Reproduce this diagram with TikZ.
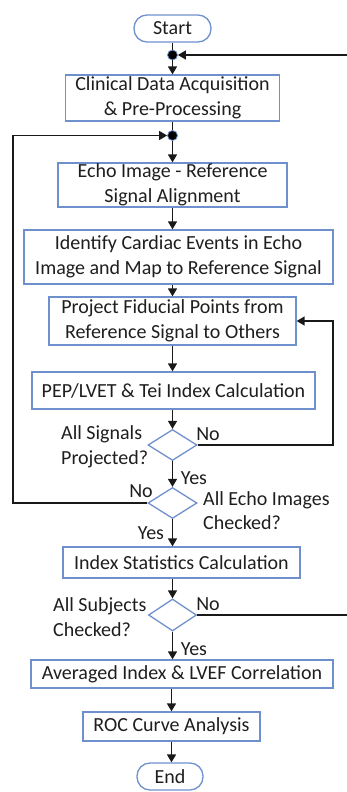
\documentclass[tikz,border=0pt]{standalone}
\usepackage{fontspec}
\setmainfont{Carlito}
\usetikzlibrary{arrows.meta,shapes.geometric,calc}
\definecolor{bordblue}{RGB}{110,145,205}
\definecolor{txt}{RGB}{30,30,30}
\definecolor{ln}{RGB}{25,25,25}
\begin{document}
\begin{tikzpicture}[x=1pt,y=-1pt,
 every node/.style={font=\fontsize{20}{24.5}\selectfont, text=txt},
 procbox/.style={draw=bordblue, line width=1.3pt, inner sep=0pt, align=center},
 termbox/.style={draw=bordblue, line width=1.3pt, rounded corners=13pt, inner sep=0pt},
 decbox/.style={diamond, draw=bordblue, line width=1.3pt, inner sep=0pt},
 junc/.style={circle, fill=black, draw=bordblue, line width=0.8pt, inner sep=0pt, minimum size=10pt},
 conn/.style={draw=ln, line width=1.6pt},
 arr/.style={conn, -{Triangle[length=8pt,width=9pt]}},
 lab/.style={inner sep=0pt, align=left}
]
\useasboundingbox (0,0) rectangle (347,792);
\clip (0,0) rectangle (347,792);
% nodes
\node[termbox, minimum width=77pt, minimum height=27pt] (start) at (172.5,28.5) {Start};
\node[junc] (j1) at (172.5,55) {};
\node[procbox, minimum width=214pt, minimum height=46pt] (b1) at (172.5,98) {Clinical Data Acquisition\\\& Pre-Processing};
\node[junc] (j2) at (172.5,135.5) {};
\node[procbox, minimum width=229pt, minimum height=44pt] (b2) at (172.5,185) {Echo Image - Reference\\Signal Alignment};
\node[procbox, minimum width=309pt, minimum height=54pt] (b3) at (178.5,257) {Identify Cardiac Events in Echo\\Image and Map to Reference Signal};
\node[procbox, minimum width=247pt, minimum height=48pt] (b4) at (172.5,321) {Project Fiducial Points from\\Reference Signal to Others};
\node[procbox, minimum width=283pt, minimum height=37pt] (b5) at (173.5,390.5) {PEP/LVET \& Tei Index Calculation};
\node[decbox, minimum width=49pt, minimum height=31pt] (d1) at (172.5,445) {};
\node[decbox, minimum width=49pt, minimum height=31pt] (d2) at (172.5,503) {};
\node[procbox, minimum width=237pt, minimum height=31pt] (b6) at (181.5,562.5) {Index Statistics Calculation};
\node[decbox, minimum width=48pt, minimum height=32pt] (d3) at (172.5,615) {};
\node[procbox, minimum width=302pt, minimum height=28pt] (b7) at (182,674) {Averaged Index \& LVEF Correlation};
\node[procbox, minimum width=177pt, minimum height=29pt] (b8) at (171.5,726.5) {ROC Curve Analysis};
\node[termbox, minimum width=66pt, minimum height=27pt] (end) at (170,776.5) {End};
% labels
\node[lab, anchor=west] (l1) at (61,447) {All Signals\\Projected?};
\node[lab] (n1) at (208,434) {No};
\node[lab] (y1) at (194,478) {Yes};
\node[lab] (n2) at (141,491) {No};
\node[lab, anchor=west] (l2) at (203,510.5) {All Echo Images\\Checked?};
\node[lab] (y2) at (151,533) {Yes};
\node[lab, anchor=west] (l3) at (53,617) {All Subjects\\Checked?};
\node[lab] (n3) at (208,604) {No};
\node[lab] (y3) at (194,649) {Yes};
% helper coordinates
\coordinate (rl) at (333,0);
\coordinate (ll) at (13,0);
\coordinate (fr) at (352,0);
% connectors
\draw[conn] (start) -- (j1);
\draw[arr] (j1) -- (j1 |- b1.north);
\draw[conn] (j1 |- b1.south) -- (j2);
\draw[arr] (j2) -- (j2 |- b2.north);
\draw[arr] (b2.south) -- (b2.south |- b3.north);
\draw[arr] (b4.north |- b3.south) -- (b4.north);
\draw[arr] (b4.south) -- (b4.south |- b5.north);
\draw[arr] (d1.north |- b5.south) -- (d1.north);
\draw[arr] (d1.south) -- (d2.north);
\draw[arr] (d2.south) -- (d2.south |- b6.north);
\draw[arr] (d3.north |- b6.south) -- (d3.north);
\draw[arr] (d3.south) -- (d3.south |- b7.north);
\draw[arr] (b8.north |- b7.south) -- (b8.north);
\draw[arr] (b8.south) -- (b8.south |- end.north);
% loops
\draw[arr] (d1.east) -- (d1.east -| rl) |- (b4.east);
\draw[arr] (d2.west) -- (d2.west -| ll) |- (j2);
\draw[arr] (d3.east) -- (d3.east -| fr) |- (j1);
\end{tikzpicture}
\end{document}
